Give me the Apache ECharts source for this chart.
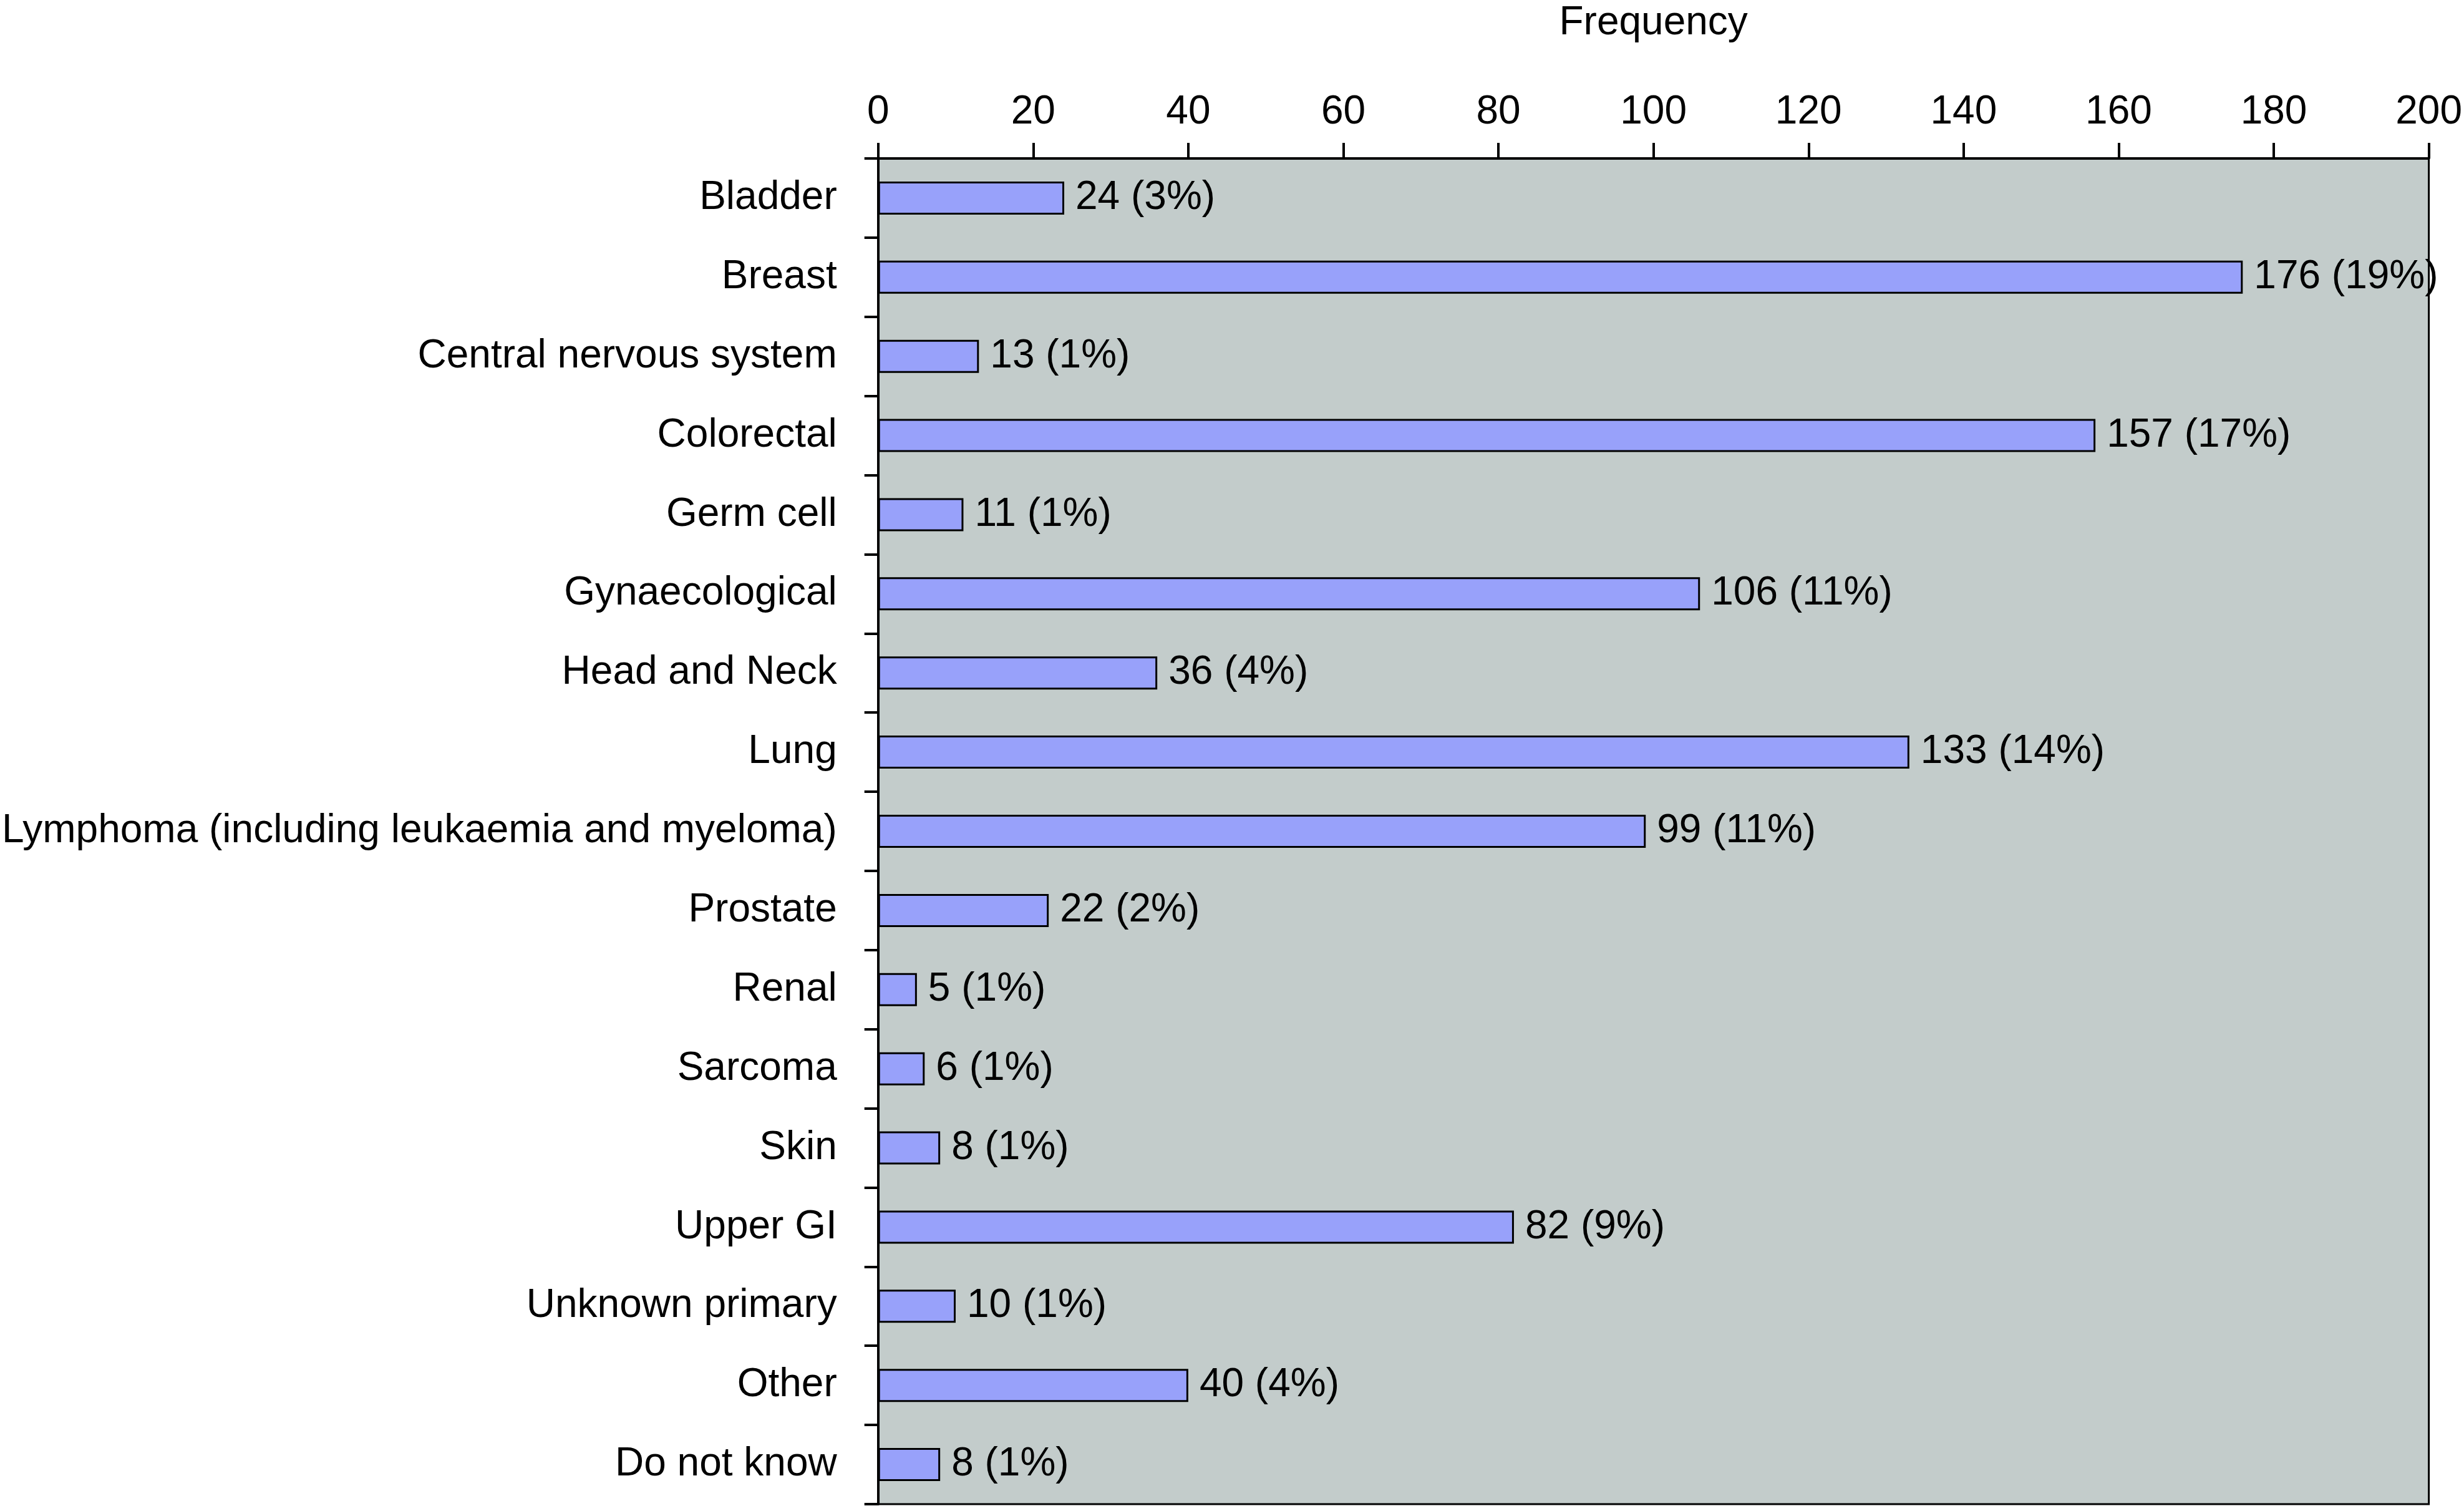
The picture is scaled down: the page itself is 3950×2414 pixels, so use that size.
<!DOCTYPE html>
<html>
<head>
<meta charset="utf-8">
<script src="https://cdn.jsdelivr.net/npm/echarts@6/dist/echarts.min.js"></script>
<style>
html,body{margin:0;padding:0;background:#fff;}
#c{width:3950px;height:2414px;}
</style>
</head>
<body>
<div id="c"></div>
<script>
const categories = ["Bladder","Breast","Central nervous system","Colorectal","Germ cell","Gynaecological","Head and Neck","Lung","Lymphoma (including leukaemia and myeloma)","Prostate","Renal","Sarcoma","Skin","Upper GI","Unknown primary","Other","Do not know"];
const frequencies = [24,176,13,157,11,106,36,133,99,22,5,6,8,82,10,40,8];
const percents = [3,19,1,17,1,11,4,14,11,2,1,1,1,9,1,4,1];
const xTicks = {min:0, max:200, interval:20};
const axisTitle = "Frequency";

const FONT = '"Liberation Sans", Arial, Helvetica, sans-serif';
const FS = 64;
const chart = echarts.init(document.getElementById('c'), null, {renderer:'canvas'});
chart.setOption({
  animation:false,
  backgroundColor:'#ffffff',
  textStyle:{fontFamily:FONT},
  grid:{left:1406, right:48, top:244, bottom:3, show:true, backgroundColor:'#C3CCCB', borderColor:'#000', borderWidth:3, containLabel:false},
  xAxis:{
    type:'value', position:'top', min:xTicks.min, max:xTicks.max, interval:xTicks.interval,
    name:axisTitle, nameLocation:'middle', nameGap:185,
    nameTextStyle:{fontSize:FS, color:'#000', fontFamily:FONT},
    axisLine:{show:true, lineStyle:{color:'#000', width:4}},
    axisTick:{show:true, inside:false, length:25, lineStyle:{color:'#000', width:4}},
    axisLabel:{fontSize:FS, color:'#000', margin:42, fontFamily:FONT},
    splitLine:{show:false}
  },
  yAxis:{
    type:'category', data:categories, inverse:true,
    axisLine:{show:true, lineStyle:{color:'#000', width:4}},
    axisTick:{show:true, inside:false, length:22, alignWithLabel:false, lineStyle:{color:'#000', width:4}},
    axisLabel:{fontSize:FS, color:'#000', margin:66, fontFamily:FONT, interval:0},
    splitLine:{show:false}
  },
  series:[{
    type:'bar',
    data:frequencies,
    barWidth:53,
    itemStyle:{color:'#98A1FA', borderColor:'#000', borderWidth:3},
    label:{show:true, position:'right', distance:18, fontSize:FS, color:'#000', fontFamily:FONT,
      formatter:p => p.value + ' (' + percents[p.dataIndex] + '%)'}
  }]
});
</script>
</body>
</html>
